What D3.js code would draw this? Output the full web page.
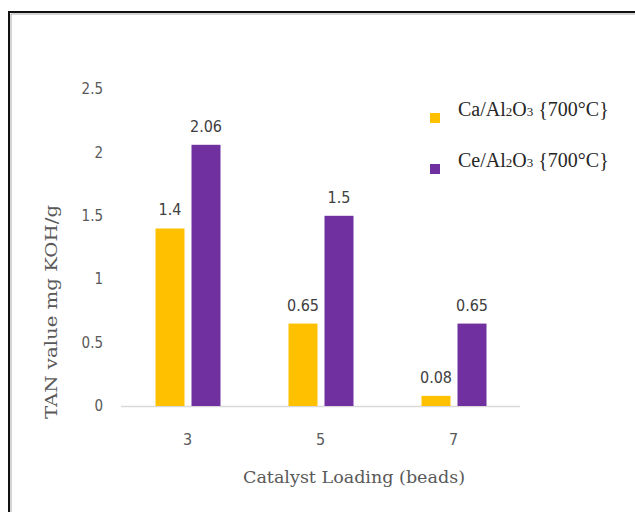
<!DOCTYPE html>
<html>
<head>
<meta charset="utf-8">
<script src="https://cdn.jsdelivr.net/npm/d3@7"></script>
<style>
  body { margin: 0; background: white; }
  svg { display: block; }
</style>
</head>
<body>
<div id="chart"></div>
<script>
// data
const categories = ['3', '5', '7'];
const seriesNames = ['Ca', 'Ce'];
const caValues = [1.4, 0.65, 0.08];
const ceValues = [2.06, 1.5, 0.65];
const yTicks = [0, 0.5, 1, 1.5, 2, 2.5];
const colors = ['#FFC000', '#7030A0'];

const W = 635, H = 512;
const svg = d3.select('#chart').append('svg')
  .attr('width', W)
  .attr('height', H);

// frame
svg.append('path')
  .attr('d', `M9,${H + 5}V12H${W + 5}`)
  .attr('fill', 'none')
  .attr('stroke', '#111')
  .attr('stroke-width', 2);
svg.append('path')
  .attr('d', `M11,${H + 5}V14H${W + 5}`)
  .attr('fill', 'none')
  .attr('stroke', '#aaa')
  .attr('stroke-width', 1);

const plot = { left: 121, right: 520, top: 89, bottom: 406 };
const textFont = '"DejaVu Sans Condensed", "DejaVu Sans", sans-serif';
const titleFont = '"DejaVu Serif Condensed", "DejaVu Serif", serif';

const x = d3.scaleBand()
  .domain(categories)
  .range([plot.left, plot.right]);

const y = d3.scaleLinear()
  .domain([0, 2.5])
  .range([plot.bottom, plot.top]);

const barW = 29, gap = 7;

// y tick labels
svg.append('g')
  .selectAll('text')
  .data(yTicks)
  .enter()
  .append('text')
  .attr('x', 103)
  .attr('y', (d) => y(d))
  .attr('dy', '0.35em')
  .attr('text-anchor', 'end')
  .attr('fill', '#595959')
  .style('font-family', textFont)
  .style('font-size', '15px')
  .text((d) => d);

// x axis line
svg.append('line')
  .attr('x1', plot.left)
  .attr('x2', plot.right)
  .attr('y1', y(0) + 0.5)
  .attr('y2', y(0) + 0.5)
  .attr('stroke', '#d9d9d9')
  .attr('stroke-width', 1.5);

// x tick labels
svg.append('g')
  .selectAll('text')
  .data(categories)
  .enter()
  .append('text')
  .attr('x', (d) => x(d) + x.bandwidth() / 2)
  .attr('y', 445)
  .attr('text-anchor', 'middle')
  .attr('fill', '#595959')
  .style('font-family', textFont)
  .style('font-size', '16px')
  .text((d) => d);

// bars
const series = [caValues, ceValues];
series.forEach((vals, s) => {
  const xOff = s === 0 ? -barW - gap / 2 + 0.5 : gap / 2 + 0.5;
  svg.append('g')
    .selectAll('rect')
    .data(vals)
    .enter()
    .append('rect')
    .attr('x', (d, i) => x(categories[i]) + x.bandwidth() / 2 + xOff)
    .attr('y', (d) => y(d))
    .attr('width', barW)
    .attr('height', (d) => y(0) - y(d))
    .attr('fill', colors[s]);

  svg.append('g')
    .selectAll('text')
    .data(vals)
    .enter()
    .append('text')
    .attr('x', (d, i) => x(categories[i]) + x.bandwidth() / 2 + xOff + barW / 2)
    .attr('y', (d) => y(d) - 13)
    .attr('text-anchor', 'middle')
    .attr('fill', '#404040')
    .style('font-family', textFont)
    .style('font-size', '16px')
    .text((d) => d);
});

// axis titles
svg.append('text')
  .attr('x', 354)
  .attr('y', 483)
  .attr('text-anchor', 'middle')
  .attr('fill', '#595959')
  .attr('textLength', 222)
  .attr('lengthAdjust', 'spacingAndGlyphs')
  .style('font-family', titleFont)
  .style('font-size', '16px')
  .text('Catalyst Loading (beads)');

svg.append('text')
  .attr('transform', 'translate(57,312) rotate(-90)')
  .attr('text-anchor', 'middle')
  .attr('fill', '#595959')
  .attr('textLength', 214)
  .attr('lengthAdjust', 'spacingAndGlyphs')
  .style('font-family', titleFont)
  .style('font-size', '16px')
  .text('TAN value mg KOH/g');

// legend
const legend = svg.append('g');
seriesNames.forEach((name, i) => {
  const ly = 118 + i * 51;
  legend.append('rect')
    .attr('x', 430)
    .attr('y', ly - 5)
    .attr('width', 10)
    .attr('height', 10)
    .attr('fill', colors[i]);
  const t = legend.append('text')
    .attr('x', 458)
    .attr('y', ly - 2)
    .attr('fill', '#262626')
    .style('font-family', '"Liberation Serif", serif')
    .style('font-size', '20px');
  t.append('tspan').text(`${name}/Al`);
  t.append('tspan').style('font-size', '13px').text('2');
  t.append('tspan').text('O');
  t.append('tspan').style('font-size', '13px').text('3');
  t.append('tspan').text(' {700°C}');
});
</script>
</body>
</html>
